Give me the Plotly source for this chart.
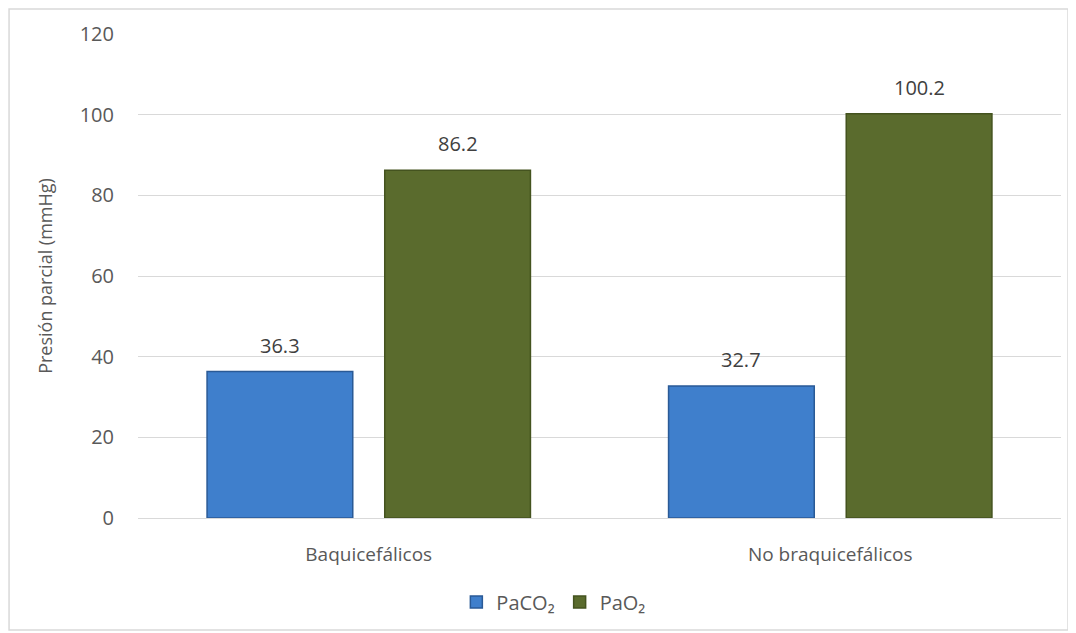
import plotly.graph_objects as go

categories = ["Baquicefálicos", "No braquicefálicos"]
paco2 = [36.3, 32.7]
pao2 = [86.2, 100.2]
series_names = ["PaCO₂", "PaO₂"]
y_ticks = [0, 20, 40, 60, 80, 100, 120]

font_fam = "Open Sans, Liberation Sans, DejaVu Sans, sans-serif"
txt_col = "#595959"
lab_col = "#404040"
BARGAP = 0.23
BARGROUPGAP = 0.18

fig = go.Figure()
fig.add_trace(go.Bar(
    x=categories, y=paco2, name=series_names[0],
    marker=dict(color="#3f7fcc", line=dict(color="#2a5a96", width=1.5)),
))
fig.add_trace(go.Bar(
    x=categories, y=pao2, name=series_names[1],
    marker=dict(color="#5a6b2d", line=dict(color="#44531f", width=1.5)),
))

# data labels above bars (positions follow the group layout)
off = (1 - BARGAP) / 4
annotations = []
for sign, vals in ((-1, paco2), (1, pao2)):
    for i, v in enumerate(vals):
        annotations.append(dict(x=i + sign * off, y=v, xref="x", yref="y",
                                text=f"{v:.1f}", showarrow=False, yanchor="bottom",
                                yshift=11, font=dict(size=20, color=lab_col, family=font_fam)))

fig.update_layout(
    width=1068, height=625,
    margin=dict(l=130, r=15, t=26, b=115),
    paper_bgcolor="white", plot_bgcolor="white",
    barmode="group", bargap=BARGAP, bargroupgap=BARGROUPGAP,
    font=dict(family=font_fam, color=txt_col, size=16),
    showlegend=True,
    legend=dict(orientation="h", x=0.450, xanchor="center", y=-0.1736, yanchor="middle",
                font=dict(size=20, color=txt_col), itemwidth=30),
    yaxis=dict(range=[0, 120], tickvals=y_ticks, showgrid=True, gridcolor="#d9d9d9",
               gridwidth=1, zeroline=False, showline=False,
               ticks="outside", ticklen=19, tickcolor="white",
               title=dict(text="Presión parcial (mmHg)", font=dict(size=18, color=txt_col), standoff=22),
               tickfont=dict(size=20, color=txt_col)),
    xaxis=dict(showgrid=False, showline=True, linecolor="#d9d9d9", linewidth=1,
               ticks="outside", ticklen=19, tickcolor="white",
               tickfont=dict(size=19, color=txt_col)),
    annotations=annotations,
    shapes=[dict(type="rect", xref="paper", yref="paper",
                 x0=-0.1397, x1=1.0076, y0=-0.2314, y1=1.0517,
                 line=dict(color="#d9d9d9", width=1.5), fillcolor="rgba(0,0,0,0)", layer="below")],
)

fig.write_html("out.html")
